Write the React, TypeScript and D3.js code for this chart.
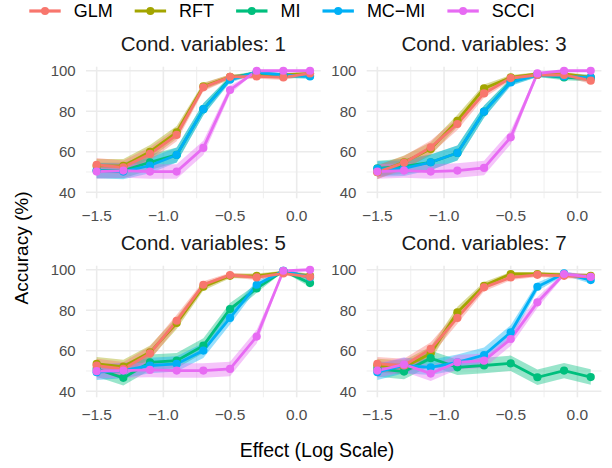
import React from 'react';
import * as d3 from 'd3';

// effect sizes on the log scale (x positions of the points)
const effects = [-1.5, -1.3, -1.1, -0.9, -0.7, -0.5, -0.3, -0.1, 0.1];
const methods = ['GLM', 'RFT', 'MI', 'MC−MI', 'SCCI'];
const colors = ['#F8766D', '#A3A500', '#00BF7D', '#00B0F6', '#E76BF3'];
const panelTitles = ['Cond. variables: 1', 'Cond. variables: 3', 'Cond. variables: 5', 'Cond. variables: 7'];
const xTicks = [-1.5, -1.0, -0.5, 0.0];
const xMinor = [-1.25, -0.75, -0.25];
const yTicks = [40, 60, 80, 100];
const yMinor = [50, 70, 90];

// accuracy (%) per method, rows in the order of `methods`
const cond1 = [
  [53.5, 52.3, 58.9, 68.3, 91.8, 97.0, 97.2, 96.7, 98.7],
  [53.0, 53.0, 60.0, 69.6, 92.3, 97.0, 98.0, 97.9, 98.7],
  [50.7, 50.7, 54.8, 58.4, 81.0, 96.0, 99.2, 97.5, 97.5],
  [50.7, 50.2, 53.2, 58.4, 81.0, 95.6, 99.2, 97.9, 97.2],
  [50.2, 50.7, 50.2, 50.2, 61.9, 90.5, 100, 100, 100],
];
const cond3 = [
  [49.9, 54.5, 62.2, 73.7, 88.8, 96.4, 97.9, 97.9, 95.1],
  [49.9, 54.8, 61.4, 75.3, 91.3, 96.7, 98.4, 98.4, 96.7],
  [51.8, 52.8, 54.8, 59.4, 79.8, 94.6, 98.0, 96.7, 96.2],
  [51.5, 51.8, 54.8, 59.4, 79.8, 94.2, 98.0, 97.2, 96.7],
  [50.2, 50.7, 50.2, 50.7, 52.0, 67.1, 98.7, 100, 100],
];
const cond5 = [
  [52.7, 51.0, 58.7, 74.8, 92.6, 97.4, 96.2, 98.2, 96.5],
  [53.5, 52.2, 59.2, 73.7, 91.6, 97.0, 97.0, 98.7, 97.0],
  [51.0, 46.6, 54.3, 55.1, 62.5, 80.6, 90.8, 99.5, 93.4],
  [49.4, 50.2, 52.7, 53.5, 60.1, 76.2, 92.6, 99.5, 96.2],
  [49.9, 50.2, 50.5, 50.2, 50.2, 51.0, 67.0, 99.5, 100],
];
const cond7 = [
  [53.5, 52.7, 60.9, 76.2, 91.3, 96.2, 97.5, 97.0, 96.5],
  [52.7, 51.8, 58.7, 79.0, 92.1, 97.9, 97.9, 97.5, 97.0],
  [51.0, 49.7, 56.3, 51.8, 52.7, 53.8, 46.9, 50.2, 47.0],
  [49.4, 52.7, 51.8, 54.3, 57.9, 69.1, 91.6, 98.2, 94.9],
  [50.2, 53.2, 48.7, 54.3, 55.1, 65.8, 83.9, 97.9, 96.5],
];
const panels = [cond1, cond3, cond5, cond7];

// half width of the confidence band at 50% accuracy, per method
const bandHalf = [3.4, 3.4, 3.8, 3.8, 3.6];

const drawOrder = [1, 2, 3, 0, 4];
const font = '"Liberation Sans", Arial, Helvetica, sans-serif';

const panelLeft = [86, 366.7];
const panelTop = [66.7, 265.7];
const panelW = 234.7;
const panelH = 131.6;

const measure = (text: string, size: number) => {
  const ctx = document.createElement('canvas').getContext('2d');
  if (!ctx) return text.length * size * 0.6;
  ctx.font = `${size}px "Liberation Sans", Arial, sans-serif`;
  return ctx.measureText(text).width;
};

const Panel: React.FC<{ data: number[][]; title: string; left: number; top: number }> = ({ data, title, left, top }) => {
  const x = d3.scaleLinear().domain([-1.58, 0.18]).range([0, panelW]);
  const y = d3.scaleLinear().domain([37, 102]).range([panelH, 0]);

  const line = d3.line<[number, number]>()
    .x(d => x(d[0]))
    .y(d => y(d[1]));

  // band width shrinks towards 100% like a binomial interval
  const band = (vals: number[], half: number) => {
    const w = (v: number) => half * Math.sqrt((v / 100) * (1 - v / 100)) / 0.5;
    const area = d3.area<number>()
      .x((_, i) => x(effects[i]))
      .y0(v => y(Math.max(37, v - w(v))))
      .y1(v => y(Math.min(100, v + w(v))));
    return area(vals) || '';
  };

  return (
    <g transform={`translate(${left},${top})`}>
      {/* grid */}
      {yMinor.map(v => (
        <line key={'ym' + v} x1={0} x2={panelW} y1={y(v)} y2={y(v)} stroke="#EBEBEB" strokeWidth={0.8} />
      ))}
      {xMinor.map(v => (
        <line key={'xm' + v} x1={x(v)} x2={x(v)} y1={0} y2={panelH} stroke="#EBEBEB" strokeWidth={0.8} />
      ))}
      {yTicks.map(v => (
        <line key={'y' + v} x1={0} x2={panelW} y1={y(v)} y2={y(v)} stroke="#EBEBEB" strokeWidth={1.6} />
      ))}
      {xTicks.map(v => (
        <line key={'x' + v} x1={x(v)} x2={x(v)} y1={0} y2={panelH} stroke="#EBEBEB" strokeWidth={1.6} />
      ))}

      {/* ribbons */}
      {drawOrder.map(m => (
        <path key={'b' + m} d={band(data[m], bandHalf[m])} fill={colors[m]} fillOpacity={0.4} />
      ))}
      {/* lines */}
      {drawOrder.map(m => (
        <path
          key={'l' + m}
          d={line(data[m].map((v, i) => [effects[i], v] as [number, number])) || ''}
          fill="none"
          stroke={colors[m]}
          strokeWidth={2.8}
        />
      ))}
      {/* points */}
      {drawOrder.map(m => (
        <g key={'p' + m} fill={colors[m]}>
          {data[m].map((v, i) => (
            <circle key={i} cx={x(effects[i])} cy={y(v)} r={4.1} />
          ))}
        </g>
      ))}

      {/* axes labels */}
      {xTicks.map(v => (
        <text key={'xt' + v} x={x(v)} y={panelH + 22.5} textAnchor="middle" fontSize={15.5} fill="#4D4D4D">
          {d3.format('.1f')(v).replace('-', '−')}
        </text>
      ))}
      {yTicks.map(v => (
        <text key={'yt' + v} x={-10.3} y={y(v)} dy="0.36em" textAnchor="end" fontSize={15} fill="#4D4D4D">
          {v}
        </text>
      ))}
      <text x={panelW / 2} y={-15.7} textAnchor="middle" fontSize={20.5} fill="#1A1A1A">
        {title}
      </text>
    </g>
  );
};

const Legend: React.FC = () => {
  const keyW = 31.4;
  const keyGap = 13;
  const itemGap = 22;
  let cursor = 29.3;
  const items = methods.map((m, i) => {
    const start = cursor;
    const w = measure(m, 18);
    cursor += keyW + keyGap + w + itemGap;
    return { m, i, start };
  });
  return (
    <g>
      {items.map(({ m, i, start }) => (
        <g key={m}>
          <line x1={start} x2={start + keyW} y1={11} y2={11} stroke={colors[i]} strokeWidth={3.2} />
          <circle cx={start + keyW / 2} cy={11} r={4} fill={colors[i]} />
          <text x={start + keyW + keyGap} y={11} dy="0.36em" fontSize={18} fill="#000">
            {m}
          </text>
        </g>
      ))}
    </g>
  );
};

export default function App() {
  return (
    <svg
      width={612}
      height={468}
      style={{ position: 'absolute', left: 0, top: 0, background: '#fff', fontFamily: font }}
    >
      <rect width={612} height={468} fill="#fff" />
      <Legend />
      {panels.map((data, k) => (
        <Panel
          key={k}
          data={data}
          title={panelTitles[k]}
          left={panelLeft[k % 2]}
          top={panelTop[Math.floor(k / 2)]}
        />
      ))}
      <text x={317} y={457} textAnchor="middle" fontSize={19.5} fill="#000">
        Effect (Log Scale)
      </text>
      <text
        transform="translate(28,248) rotate(-90)"
        textAnchor="middle"
        fontSize={19}
        fill="#000"
      >
        Accuracy (%)
      </text>
    </svg>
  );
}
